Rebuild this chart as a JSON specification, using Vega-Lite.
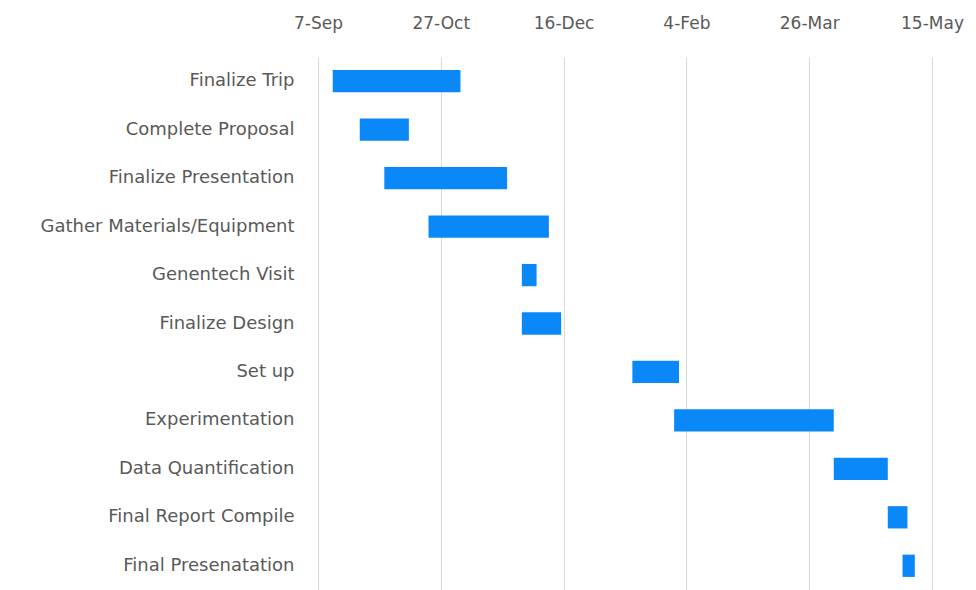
{
  "$schema": "https://vega.github.io/schema/vega-lite/v6.json",
  "autosize": "none",
  "width": 614,
  "height": 533,
  "padding": {"left": 318, "top": 57, "right": 44, "bottom": 0},
  "background": "white",
  "config": {"view": {"stroke": null}},
  "data": {
    "values": [
      {"task": "Finalize Trip", "start": "2017-09-13", "end": "2017-11-04"},
      {"task": "Complete Proposal", "start": "2017-09-24", "end": "2017-10-14"},
      {"task": "Finalize Presentation", "start": "2017-10-04", "end": "2017-11-23"},
      {"task": "Gather Materials/Equipment", "start": "2017-10-22", "end": "2017-12-10"},
      {"task": "Genentech Visit", "start": "2017-11-29", "end": "2017-12-05"},
      {"task": "Finalize Design", "start": "2017-11-29", "end": "2017-12-15"},
      {"task": "Set up", "start": "2018-01-13", "end": "2018-02-01"},
      {"task": "Experimentation", "start": "2018-01-30", "end": "2018-04-05"},
      {"task": "Data Quantification", "start": "2018-04-05", "end": "2018-04-27"},
      {"task": "Final Report Compile", "start": "2018-04-27", "end": "2018-05-05"},
      {"task": "Final Presenatation", "start": "2018-05-03", "end": "2018-05-08"}
    ]
  },
  "mark": {"type": "bar", "color": "#0a88f8", "cornerRadius": 0},
  "encoding": {
    "y": {
      "field": "task",
      "type": "nominal",
      "sort": null,
      "scale": {"paddingInner": 0.54, "paddingOuter": 0.27},
      "axis": {
        "title": null,
        "domain": false,
        "ticks": false,
        "labelPadding": 24,
        "labelLimit": 0,
        "labelFont": "DejaVu Sans",
        "labelFontSize": 18,
        "labelColor": "#595959"
      }
    },
    "x": {
      "field": "start",
      "type": "temporal",
      "scale": {
        "type": "utc",
        "domain": [
          {"year": 2017, "month": 9, "date": 7, "utc": true},
          {"year": 2018, "month": 5, "date": 15, "utc": true}
        ]
      },
      "axis": {
        "orient": "top",
        "title": null,
        "domain": false,
        "ticks": false,
        "grid": true,
        "gridColor": "#d9d9d9",
        "gridWidth": 1,
        "format": "%-d-%b",
        "values": [
          {"year": 2017, "month": 9, "date": 7, "utc": true},
          {"year": 2017, "month": 10, "date": 27, "utc": true},
          {"year": 2017, "month": 12, "date": 16, "utc": true},
          {"year": 2018, "month": 2, "date": 4, "utc": true},
          {"year": 2018, "month": 3, "date": 26, "utc": true},
          {"year": 2018, "month": 5, "date": 15, "utc": true}
        ],
        "labelPadding": 25,
        "labelFont": "DejaVu Sans",
        "labelFontSize": 17,
        "labelColor": "#595959",
        "labelOverlap": false,
        "labelFlush": false
      }
    },
    "x2": {"field": "end"}
  }
}
